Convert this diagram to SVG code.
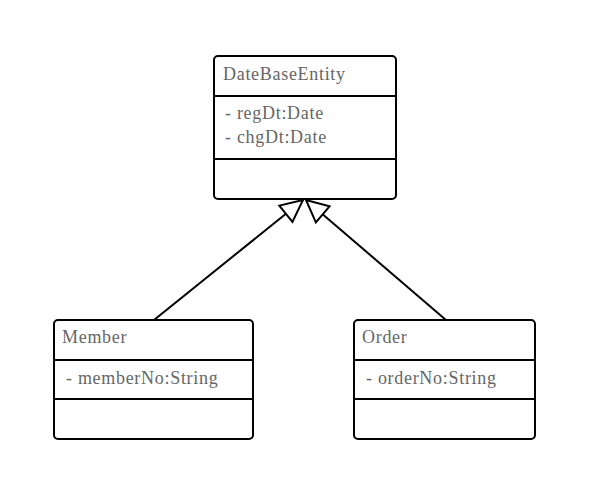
<svg xmlns="http://www.w3.org/2000/svg" width="609" height="495" viewBox="0 0 609 495">
<style>
.box{fill:#fff;stroke:#000;stroke-width:2}
.div{stroke:#000;stroke-width:2}
.t{font-family:"Liberation Serif","Times New Roman",serif;font-size:18px;letter-spacing:0.7px;fill:#666}
.edge{stroke:#000;stroke-width:2;fill:none}
</style>
<defs>
<marker id="tri" viewBox="0 0 26 24" refX="24" refY="12" markerWidth="26" markerHeight="24" markerUnits="userSpaceOnUse" orient="auto">
<path d="M2,1.5 L24,12 L2,22.5 Z" fill="#fff" stroke="#000" stroke-width="2" stroke-linejoin="miter"/>
</marker>
</defs>
<rect width="609" height="495" fill="#fff"/>
<g id="connectors">
<line class="edge" x1="154" y1="320" x2="303" y2="200" marker-end="url(#tri)"/>
<line class="edge" x1="446" y1="320" x2="306" y2="200" marker-end="url(#tri)"/>
</g>
<g id="DateBaseEntity">
<rect class="box" x="214" y="56" width="182" height="143" rx="4"/>
<line class="div" x1="214" y1="96" x2="396" y2="96"/>
<line class="div" x1="214" y1="159" x2="396" y2="159"/>
<text class="t" x="223" y="80">DateBaseEntity</text>
<text class="t" x="225" y="119">- regDt:Date</text>
<text class="t" x="225" y="143">- chgDt:Date</text>
</g>
<g id="Member">
<rect class="box" x="54" y="320" width="199" height="119" rx="4"/>
<line class="div" x1="54" y1="360" x2="253" y2="360"/>
<line class="div" x1="54" y1="399" x2="253" y2="399"/>
<text class="t" x="62" y="343">Member</text>
<text class="t" x="66" y="384">- memberNo:String</text>
</g>
<g id="Order">
<rect class="box" x="354" y="320" width="181" height="119" rx="4"/>
<line class="div" x1="354" y1="360" x2="535" y2="360"/>
<line class="div" x1="354" y1="399" x2="535" y2="399"/>
<text class="t" x="362" y="343">Order</text>
<text class="t" x="366" y="384">- orderNo:String</text>
</g>
</svg>
